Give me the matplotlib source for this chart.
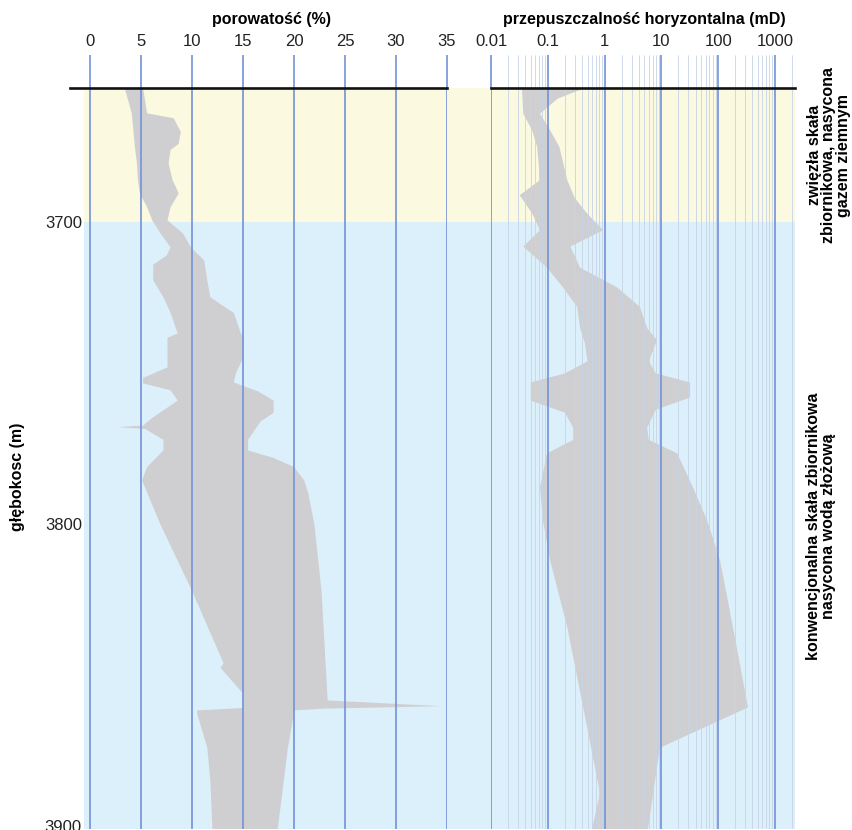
import matplotlib
matplotlib.use("Agg")
import matplotlib.pyplot as plt
import matplotlib.transforms as mtransforms
from matplotlib.ticker import FixedLocator, LogLocator, NullFormatter
import numpy as np

plt.rcParams['font.family'] = ['Liberation Sans', 'DejaVu Sans']

# depth range of the log and the gas/water contact
depth_top = 3655.5
depth_bottom = 3901
contact_depth = 3700
depth_ticks = [3700, 3800, 3900]

# porosity envelope (%), left and right edges with their own depths
por_min_depth = [3655.5, 3664, 3675, 3680.5, 3686, 3690.5, 3695, 3699.3, 3703.6, 3708.3,
                 3711, 3714, 3719.2, 3724.8, 3730, 3736.8, 3738.2, 3748, 3751.5, 3753.3,
                 3755.6, 3759, 3765, 3767.3, 3767.8, 3768.4, 3772, 3775.5, 3781, 3785.4,
                 3800, 3822, 3846, 3847.5, 3856, 3860.8, 3861.6, 3862.6, 3874, 3885, 3901]
por_min = [3.4, 4.1, 4.4, 4.6, 4.7, 4.9, 5.6, 6.1, 6.9, 7.9,
           7.5, 6.2, 6.2, 7.2, 7.9, 8.6, 7.6, 7.6, 5.2, 5.2,
           7.9, 8.6, 6.0, 5.2, 2.7, 5.4, 7.2, 7.2, 5.6, 5.1,
           6.9, 10.0, 13.1, 12.8, 15.0, 15.0, 10.5, 10.5, 11.5, 11.8, 12.0]
por_max_depth = [3655.5, 3663.9, 3665.5, 3670, 3674, 3676, 3680.5, 3686, 3690.4, 3695,
                 3699.3, 3703.6, 3708.3, 3712.6, 3719.2, 3724.8, 3730, 3736.8, 3738.2, 3745,
                 3750, 3753, 3756, 3759, 3763, 3766, 3772, 3775.5, 3778, 3781,
                 3785.4, 3789.7, 3800, 3822, 3858.3, 3860.2, 3861, 3861.6, 3862.6, 3874,
                 3885, 3901]
por_max = [5.2, 5.6, 8.2, 8.9, 8.7, 7.9, 7.7, 8.1, 8.7, 7.9,
           7.6, 9.1, 9.9, 11.2, 11.5, 11.8, 14.1, 14.8, 15.1, 15.0,
           14.3, 14.1, 16.5, 18.0, 18.0, 16.7, 15.5, 15.5, 18.0, 20.0,
           21.0, 21.4, 22.0, 22.7, 23.3, 34.5, 23.0, 20.0, 20.0, 19.4,
           19.0, 18.4]

# horizontal permeability envelope (mD)
k_min_depth = [3655.5, 3664, 3669.5, 3675, 3682, 3686, 3691, 3697, 3702.6, 3708,
               3715, 3721.5, 3728, 3735, 3740, 3746, 3750, 3753, 3759, 3763,
               3768, 3772, 3776.5, 3787.7, 3798.7, 3812, 3834, 3860.6, 3889, 3901]
k_min = [0.035, 0.037, 0.053, 0.065, 0.07, 0.073, 0.032, 0.053, 0.073, 0.037,
         0.097, 0.185, 0.33, 0.37, 0.45, 0.5, 0.2, 0.05, 0.05, 0.2,
         0.28, 0.28, 0.097, 0.073, 0.082, 0.11, 0.22, 0.42, 0.83, 0.6]
k_max_depth = [3655.5, 3659, 3664, 3669.5, 3675, 3686, 3692, 3697, 3702.6, 3708,
               3715, 3721.5, 3728, 3735, 3739, 3746, 3750, 3753, 3758, 3762,
               3768, 3772, 3776.5, 3787.7, 3798.7, 3812, 3834, 3860.6, 3874, 3901]
k_max = [0.45, 0.15, 0.073, 0.11, 0.16, 0.22, 0.3, 0.49, 0.94, 0.25,
         0.37, 1.65, 4.2, 5.6, 8.4, 6.0, 8.0, 32, 32, 8.0,
         5.6, 6.0, 19, 36, 64, 108, 182, 335, 9.4, 5.8]

por_ticks = [0, 5, 10, 15, 20, 25, 30, 35]
perm_ticks = [0.01, 0.1, 1, 10, 100, 1000]
perm_tick_labels = ['0.01', '0.1', '1', '10', '100', '1000']

zone_labels = ['zwięzła skała\nzbiornikowa, nasycona\ngazem ziemnym',
               'konwencjonalna skała zbiornikowa\nnasycona wodą złożową']

yellow = '#fcf9e1'
blue = '#dcf0fb'
grid_blue = '#7392d8'
minor_col = '#c6d3e6'
shade = '#cfcfd1'

W, H = 852, 830
fig = plt.figure(figsize=(W / 100, H / 100), dpi=100)


def px_box(x0, x1, y0, y1):
    return [x0 / W, 1 - y1 / H, (x1 - x0) / W, (y1 - y0) / H]


y_top, y_bot = 88, 829.4

# coloured zones behind both tracks
bg = fig.add_axes(px_box(84, 795, y_top, y_bot))
bg.set_ylim(depth_bottom, depth_top)
bg.set_xlim(0, 1)
bg.axhspan(depth_top, contact_depth, color=yellow, lw=0)
bg.axhspan(contact_depth, depth_bottom, color=blue, lw=0)
bg.set_xticks([])
bg.set_yticks(depth_ticks)
bg.tick_params(axis='y', length=0, pad=1.5, labelsize=12, labelcolor='#222222')
for s in bg.spines.values():
    s.set_visible(False)


def style_track(ax):
    ax.set_facecolor('none')
    ax.set_ylim(depth_bottom, depth_top)
    ax.set_yticks([])
    for name, s in ax.spines.items():
        s.set_visible(name == 'top')
    ax.spines['top'].set_linewidth(1.9)
    ax.spines['top'].set_color('#111111')
    ax.xaxis.tick_top()
    ax.tick_params(axis='x', which='major', length=23.8, width=1.2, color=grid_blue,
                   labelsize=12, pad=4, labelcolor='#222222')
    ax.grid(axis='x', which='major', color=grid_blue, lw=1.2)


# porosity track
ax1 = fig.add_axes(px_box(69.6, 447, y_top, y_bot))
style_track(ax1)
ax1.set_xlim(-2, 35)
ax1.xaxis.set_major_locator(FixedLocator(por_ticks))
ax1.fill(np.concatenate([por_min, por_max[::-1]]),
         np.concatenate([por_min_depth, por_max_depth[::-1]]),
         color=shade, lw=0, zorder=1)
ax1.text(0.536, 1.092, 'porowatość (%)', transform=ax1.transAxes,
         ha='center', va='center', fontsize=11.5, fontweight='bold')

# permeability track
ax2 = fig.add_axes(px_box(491, 795, y_top, y_bot))
ax2.set_xscale('log')
style_track(ax2)
ax2.set_xlim(0.01, 2250)
ax2.xaxis.set_major_locator(FixedLocator(perm_ticks))
ax2.set_xticklabels(perm_tick_labels)
ax2.xaxis.set_minor_locator(LogLocator(base=10, subs=np.arange(2, 10)))
ax2.xaxis.set_minor_formatter(NullFormatter())
ax2.tick_params(axis='x', which='minor', length=23.8, width=0.6, color=minor_col)
ax2.grid(axis='x', which='minor', color=minor_col, lw=0.6)
ax2.fill(np.concatenate([k_min, k_max[::-1]]),
         np.concatenate([k_min_depth, k_max_depth[::-1]]),
         color=shade, lw=0, zorder=1)
ax2.text(0.503, 1.092, 'przepuszczalność horyzontalna (mD)', transform=ax2.transAxes,
         ha='center', va='center', fontsize=11.5, fontweight='bold')

# depth axis title
fig.text(18 / W, 1 - 477 / H, 'głębokosc (m)', rotation=90, ha='center', va='center',
         fontsize=11.5, fontweight='bold')

# zone descriptions on the right
trans = mtransforms.blended_transform_factory(fig.transFigure, ax2.transData)
fig.text(829 / W, (depth_top + contact_depth) / 2, zone_labels[0], transform=trans,
         rotation=90, ha='center', va='center', multialignment='center',
         fontsize=11.5, fontweight='bold', linespacing=0.95)
fig.text(821 / W, (contact_depth + depth_bottom) / 2, zone_labels[1], transform=trans,
         rotation=90, ha='center', va='center', multialignment='center',
         fontsize=11.5, fontweight='bold', linespacing=0.95)

fig.savefig('out.png', dpi=100)
